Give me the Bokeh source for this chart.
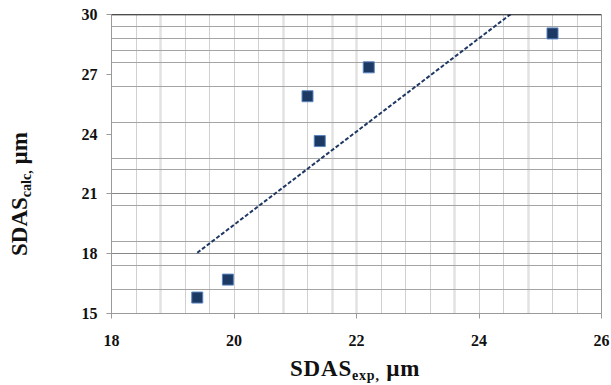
import numpy as np
from bokeh.plotting import figure
from bokeh.models import Range1d, FixedTicker, Grid, Span, ColumnDataSource, Div
from bokeh.layouts import column, row
from bokeh.embed import file_html
from bokeh.resources import INLINE

# ---- data ----
sdas_exp = [19.4, 19.9, 21.2, 21.4, 22.2, 25.2]
sdas_calc = [15.8, 16.7, 25.9, 23.65, 27.35, 29.05]
x_ticks = [18, 20, 22, 24, 26]
y_ticks = [15, 18, 21, 24, 27, 30]
x_title = ("SDAS", "exp,", " µm")
y_title = ("SDAS", "calc,", " µm")
# gridlines visible in the reference
h_grid_minor = [29.4, 28.8, 28.2, 27.6, 26.4, 24.6, 22.8, 22.2, 20.4, 18.6, 17.4, 16.2]
h_grid_major = [21, 18]
v_grid_thin = [18.4, 19.2, 19.6, 20.0, 20.4, 21.2, 22.4, 22.8, 23.2, 24.0, 24.4, 25.2, 25.6]
v_grid_thick = [18.8, 20.8, 21.6, 22.0, 23.6, 24.8]

FONT = "Liberation Serif"
YDIV_W = 40
FIG_W, FIG_H = 570, 358

p = figure(width=FIG_W, height=FIG_H, x_range=Range1d(18, 26), y_range=Range1d(15, 30),
           output_backend="svg", toolbar_location=None,
           min_border_left=71, min_border_right=9, min_border_top=14, min_border_bottom=45)
p.xgrid.visible = False
p.ygrid.visible = False
p.background_fill_color = "white"
p.border_fill_color = "white"
p.outline_line_color = "#9a9a9a"
p.outline_line_width = 1

for ax, ticks in ((p.xaxis, x_ticks), (p.yaxis, y_ticks)):
    ax.ticker = FixedTicker(ticks=ticks)
    ax.axis_line_color = "#9a9a9a"
    ax.axis_line_width = 1
    ax.major_tick_line_color = "#9a9a9a"
    ax.major_tick_out = 5
    ax.major_tick_in = 0
    ax.minor_tick_line_color = None
    ax.major_label_text_font = FONT
    ax.major_label_text_font_size = "16px"
    ax.major_label_text_font_style = "bold"
    ax.major_label_text_color = "#111111"
p.xaxis.major_label_standoff = 16
p.yaxis.major_label_standoff = 9

grids = [
    (0, v_grid_thin, "#d0d0d0", 1),
    (0, v_grid_thick, "#e2e2e2", 2.5),
    (1, h_grid_minor, "#a4a4a4", 1),
    (1, h_grid_major, "#888888", 1),
]
for dim, ticks, col, w in grids:
    p.add_layout(Grid(dimension=dim, ticker=FixedTicker(ticks=ticks),
                      grid_line_color=col, grid_line_width=w))

p.add_layout(Span(location=30, dimension="width", line_color="black", line_width=1.5))

# linear trendline from the data
k, b = np.polyfit(sdas_exp, sdas_calc, 1)
tx = [min(sdas_exp), max(sdas_exp)]
ty = [k * v + b for v in tx]
p.line(tx, ty, line_color="#1f3864", line_width=2, line_dash="4 2")

src = ColumnDataSource(dict(x=sdas_exp, y=sdas_calc))
p.scatter("x", "y", source=src, marker="square", size=11,
          fill_color="#1b3963", line_color="#5a84bf", line_width=1)

# axis titles with subscripts (HTML)
base = ("position:absolute; white-space:nowrap; font-family:'Liberation Serif'; "
        "font-weight:bold; font-size:23px; line-height:23px; color:#111111;")
sub = "font-size:14px; position:relative; top:4px;"

def title_html(parts):
    return f"{parts[0]}<span style='{sub}'>{parts[1]}</span>{parts[2]}"

ydiv = Div(width=YDIV_W, height=FIG_H, margin=(0, 0, 0, 0), styles={"overflow": "visible"},
           text=(f"<div style='position:relative; width:{YDIV_W}px; height:{FIG_H}px; overflow:visible;'>"
                 f"<div style=\"{base} left:8px; top:256px; transform-origin:0 0; "
                 f"transform:rotate(-90deg);\">{title_html(y_title)}</div></div>"))

xdiv = Div(width=YDIV_W + FIG_W, height=384 - FIG_H, margin=(0, 0, 0, 0),
           styles={"overflow": "visible"},
           text=(f"<div style='position:relative; width:{YDIV_W + FIG_W}px; height:{384 - FIG_H}px; overflow:visible;'>"
                 f"<div style=\"{base} letter-spacing:0.8px; left:290px; top:{357 - FIG_H}px;\">"
                 f"{title_html(x_title)}</div></div>"))

layout = column(row(ydiv, p, spacing=0), xdiv, spacing=0)

open("out.html", "w").write(file_html(layout, INLINE))
